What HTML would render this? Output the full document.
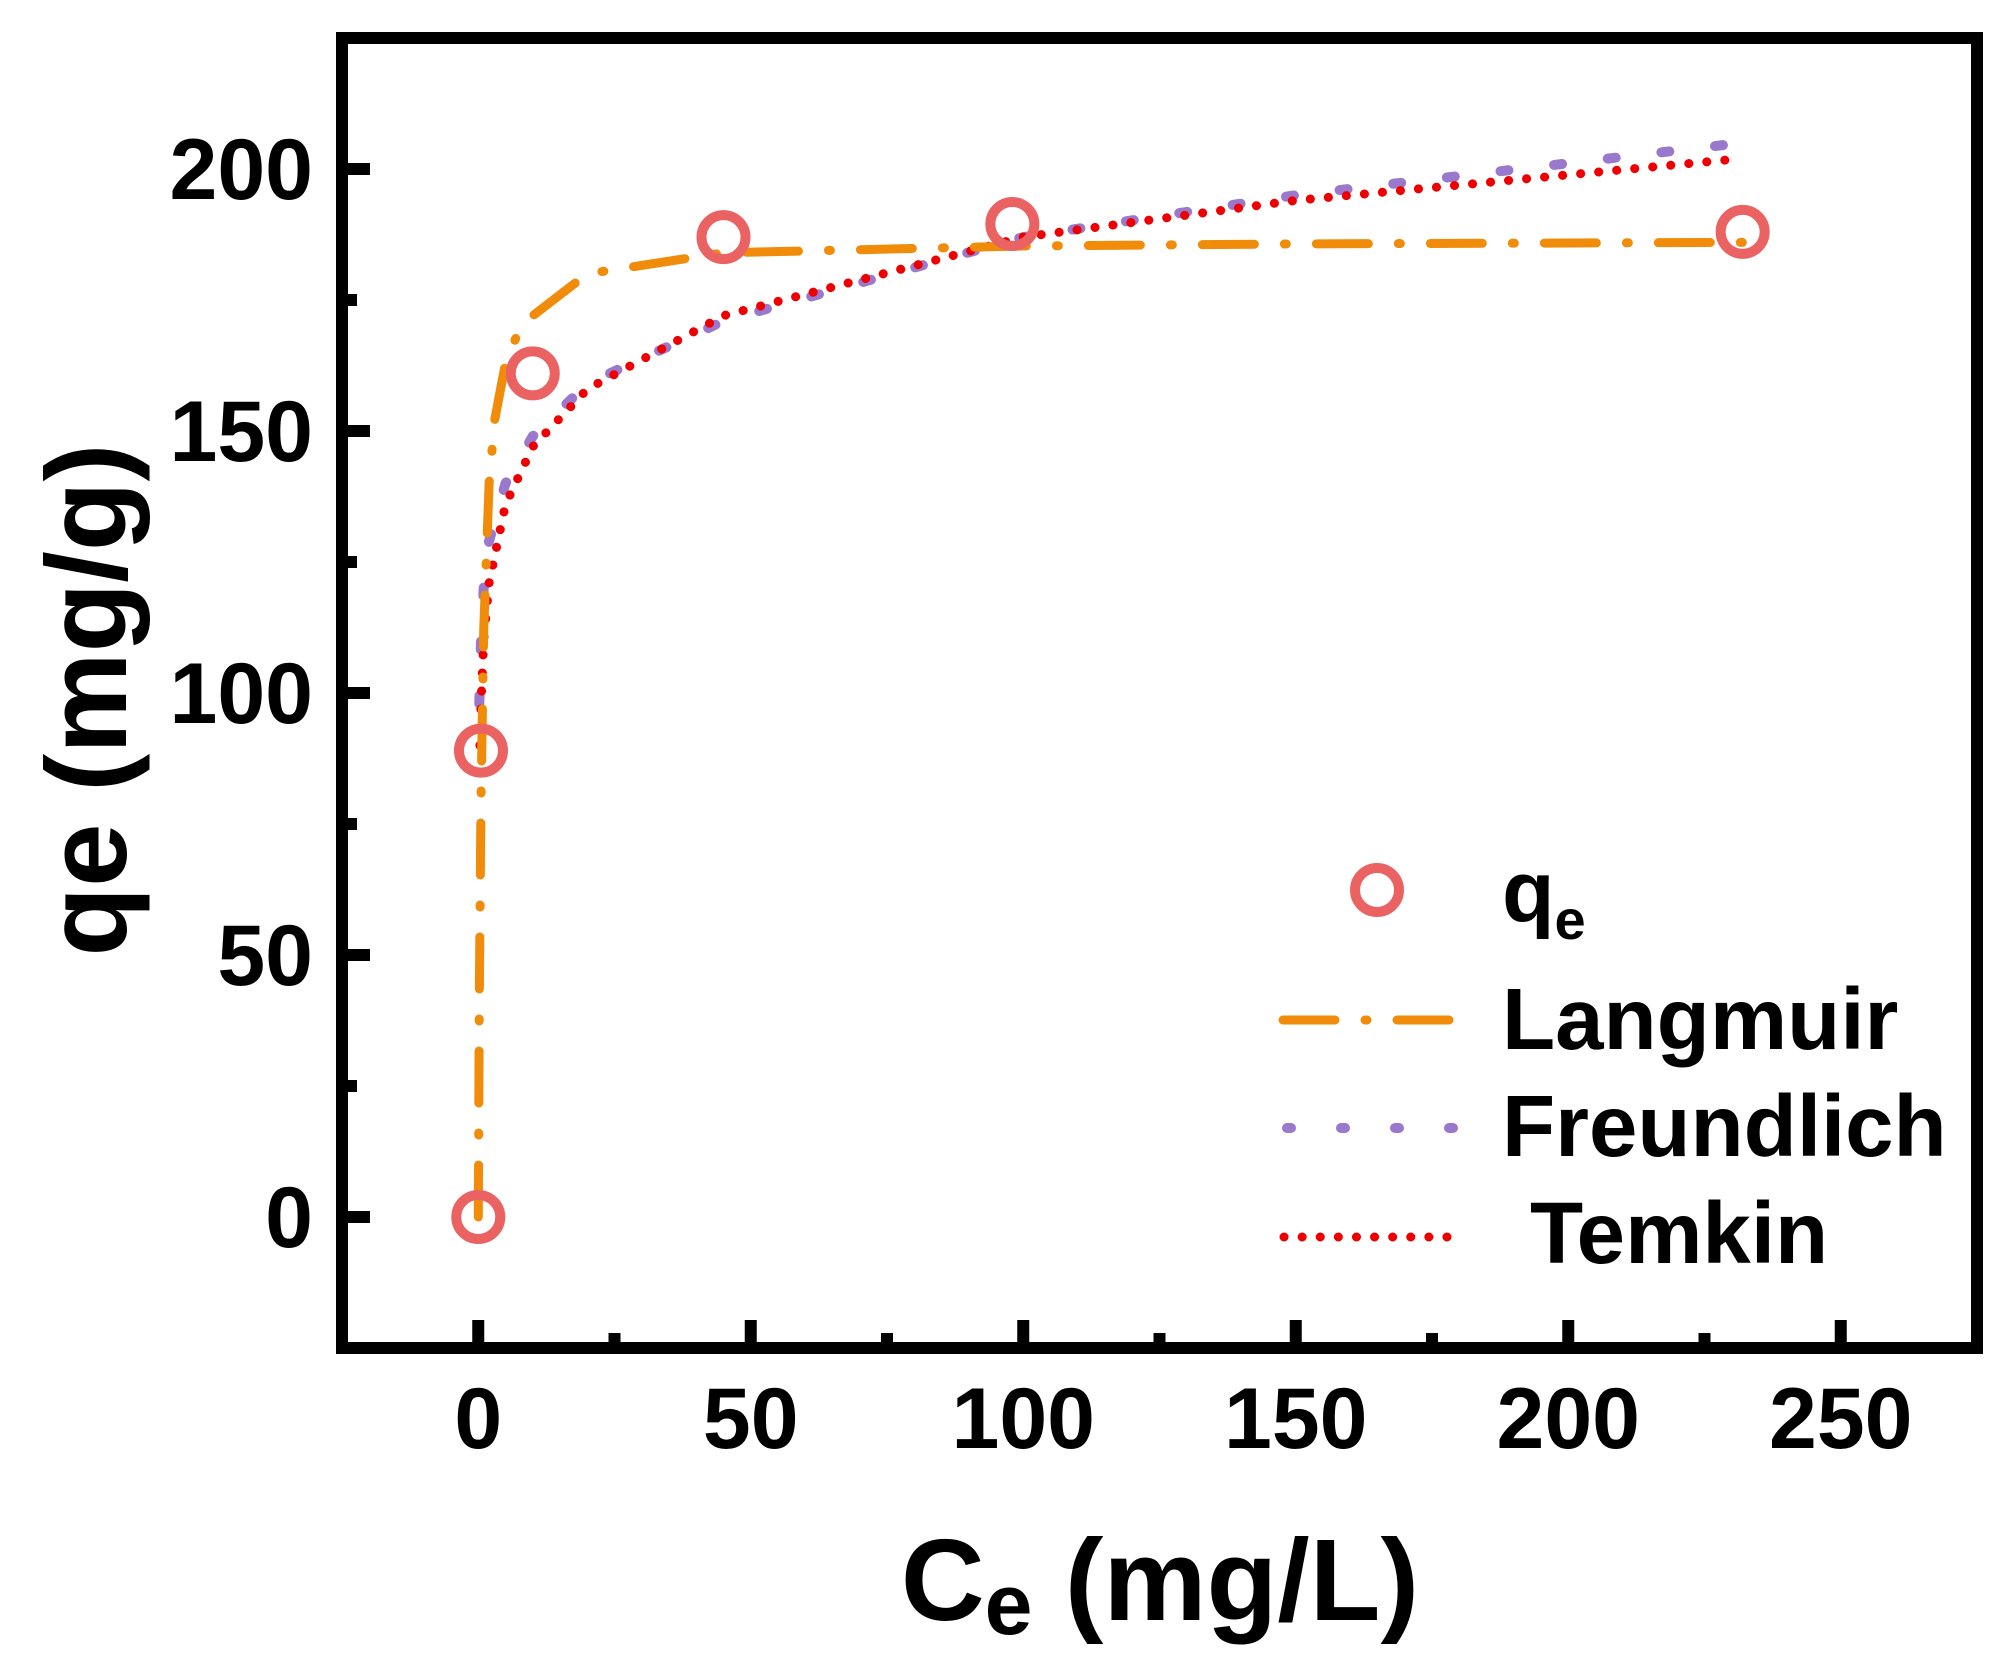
<!DOCTYPE html>
<html><head><meta charset="utf-8"><style>
html,body{margin:0;padding:0;background:#fff;}
svg{display:block;}
text{font-family:"Liberation Sans",Arial,sans-serif;font-weight:bold;fill:#000;}
</style></head><body>
<svg id="chart" width="2000" height="1666" viewBox="0 0 2000 1666" xmlns="http://www.w3.org/2000/svg">
<g id="plot"></g>
<g id="axes"></g>
<text x="1160" y="1620" font-size="116" text-anchor="middle">C<tspan font-size="86" dy="14">e</tspan><tspan dy="-14"> (mg/L)</tspan></text>
<text transform="translate(126,700) rotate(-90)" font-size="114" text-anchor="middle">qe (mg/g)</text>
<g>
  <circle cx="1377" cy="890" r="22" fill="none" stroke="#ea6262" stroke-width="10"/>
  <text x="1502" y="921" font-size="86">q<tspan font-size="56" dy="18">e</tspan></text>
  <line x1="1283" y1="1020" x2="1476" y2="1020" stroke="#f08c0a" stroke-width="9" stroke-linecap="round" stroke-dasharray="52,30,2,30"/>
  <text x="1502" y="1049" font-size="87">Langmuir</text>
  <line x1="1287" y1="1128" x2="1455" y2="1128" stroke="#9a78cc" stroke-width="10" stroke-linecap="round" stroke-dasharray="4,50"/>
  <text x="1502" y="1156" font-size="87">Freundlich</text>
  <line x1="1284" y1="1237" x2="1465" y2="1237" stroke="#ee0000" stroke-width="9" stroke-linecap="round" stroke-dasharray="0.1,18"/>
  <text x="1530" y="1263" font-size="87">Temkin</text>
</g>
</svg>
<script>
const dataX = [0, 0.5, 10, 45, 98, 232];
const dataY = [0, 89, 161, 187, 189.5, 188];
const langX = [0, 0.2, 0.5, 1, 2, 3, 5, 7, 10, 20, 45, 100, 150, 232];
const langY = [0, 42, 80, 112, 140, 152, 163, 168, 172, 180, 184, 185.3, 185.7, 186];
const freX = [0.2, 0.5, 1, 2, 5, 10, 20, 45, 100, 150, 232];
const freY = [98, 110, 120, 129, 140, 149, 159, 171, 187, 195, 205];
const temX = [0.3, 0.5, 1, 2, 5, 10, 20, 45, 100, 150, 232];
const temY = [90, 98, 110, 121, 136, 147, 158, 172, 187, 194, 202];
const xTicks = [0, 50, 100, 150, 200, 250];
const yTicks = [0, 50, 100, 150, 200];

const L=342, R=1977, T=38, B=1348;
const xMin=-25, xMax=275, yMin=-25, yMax=225;
function sx(v){return L+(v-xMin)/(xMax-xMin)*(R-L);}
function sy(v){return B-(v-yMin)/(yMax-yMin)*(B-T);}
const NS="http://www.w3.org/2000/svg";
const plot=document.getElementById('plot');
const axes=document.getElementById('axes');
function mk(tag,attrs,parent){const e=document.createElementNS(NS,tag);for(const k in attrs)e.setAttribute(k,attrs[k]);parent.appendChild(e);return e;}
function pts(xs,ys){return xs.map((x,i)=>sx(x).toFixed(1)+','+sy(ys[i]).toFixed(1)).join(' ');}

let p=mk('polyline',{points:pts(freX,freY),fill:'none',stroke:'#9a78cc','stroke-width':10,'stroke-linecap':'round','stroke-dasharray':'8,46'},plot);


p=mk('polyline',{points:pts(temX,temY),fill:'none',stroke:'#ee0000','stroke-width':9,'stroke-linecap':'round','stroke-dasharray':'0.1,18'},plot);


p=mk('polyline',{points:pts(langX,langY),fill:'none',stroke:'#f08c0a','stroke-width':9,'stroke-linecap':'round','stroke-dasharray':'52,30,2,30'},plot);


dataX.forEach((x,i)=>{
  const c=mk('circle',{cx:sx(x),cy:sy(dataY[i]),r:22,fill:'none',stroke:'#ea6262','stroke-width':10},plot);
  
  
});

const fr=mk('rect',{x:L,y:T,width:R-L,height:B-T,fill:'none',stroke:'#000','stroke-width':12},axes);


xTicks.forEach(v=>{
  const t=mk('line',{x1:sx(v),x2:sx(v),y1:B,y2:B-28,stroke:'#000','stroke-width':12},axes);
  
  
  const tx=mk('text',{x:sx(v),y:1448,'font-size':86,'text-anchor':'middle'},axes);
  tx.textContent=v;
  
  
  if(v+25<xMax){
    const m=mk('line',{x1:sx(v+25),x2:sx(v+25),y1:B,y2:B-15,stroke:'#000','stroke-width':12},axes);
    
    
  }
});
yTicks.forEach(v=>{
  const t=mk('line',{x1:L,x2:L+28,y1:sy(v),y2:sy(v),stroke:'#000','stroke-width':12},axes);
  
  
  const tx=mk('text',{x:313,y:sy(v)+30,'font-size':86,'text-anchor':'end'},axes);
  tx.textContent=v;
  
  
  if(v+25<yMax){
    const m=mk('line',{x1:L,x2:L+15,y1:sy(v+25),y2:sy(v+25),stroke:'#000','stroke-width':12},axes);
    
    
  }
});
</script>
</body></html>
